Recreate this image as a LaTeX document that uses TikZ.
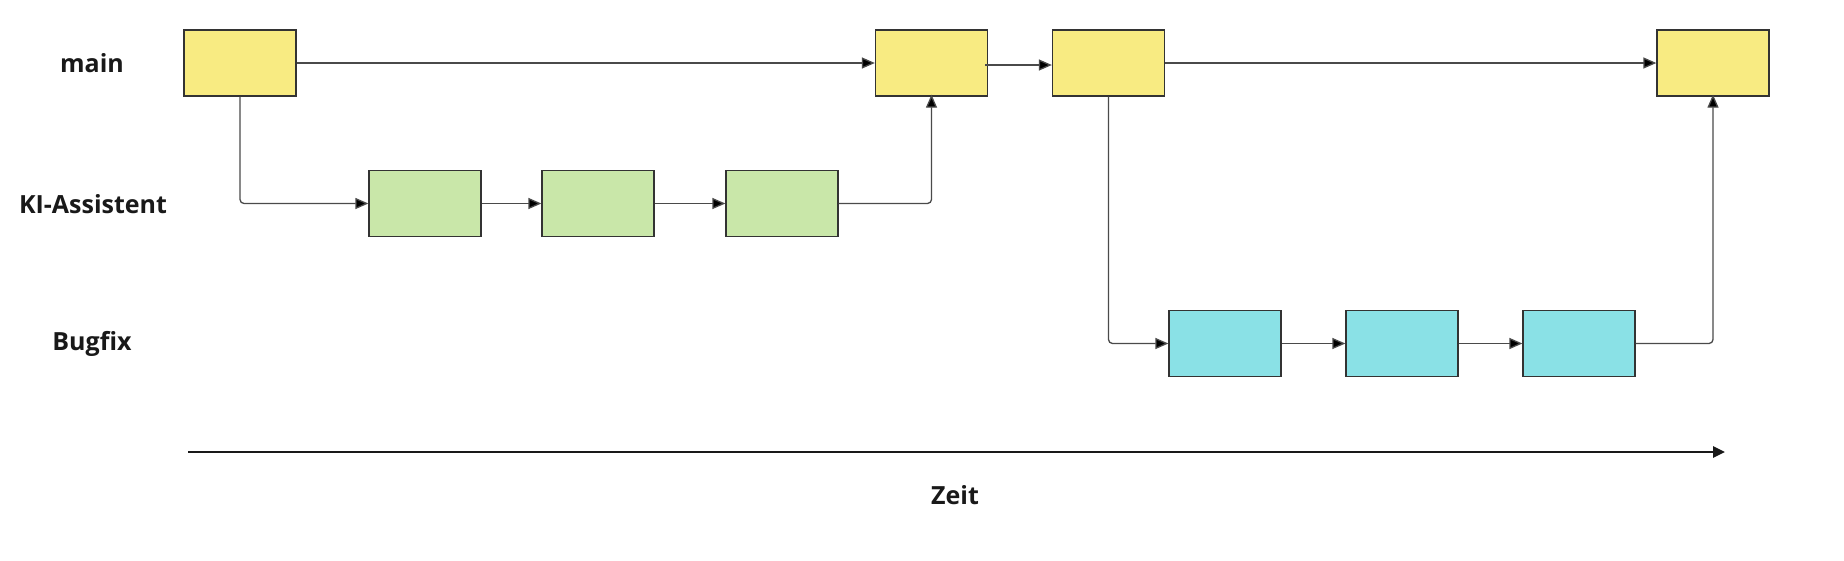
\documentclass[tikz,border=0pt]{standalone}
\usepackage{fontspec}
\setmainfont{Open Sans}
\usetikzlibrary{arrows.meta}
\definecolor{cyel}{HTML}{F8EB82}
\definecolor{cgrn}{HTML}{C9E7A9}
\definecolor{ccyn}{HTML}{8AE1E6}
\definecolor{cline}{HTML}{4A4A4A}
\definecolor{cbord}{HTML}{333333}
\tikzset{
  commit/.style={draw=cbord, line width=1.3pt, minimum width=112pt, minimum height=66pt, inner sep=0pt},
  mainc/.style={commit, fill=cyel},
  kic/.style={commit, fill=cgrn},
  bugc/.style={commit, fill=ccyn},
  conn/.style={draw=cline, line width=1.3pt, rounded corners=4pt, -{Triangle[length=13pt,width=11pt,fill=black]}},
  lane/.style={font=\bfseries\fontsize{25}{30}\selectfont, text=black!90},
}
\begin{document}
\begin{tikzpicture}[x=1pt,y=-1pt]
\useasboundingbox (0,0) rectangle (1844,560);
% lane labels
\node[lane] (lmain) at (92,63) {main};
\node[lane] (lki) at (93,204) {KI-Assistent};
\node[lane] (lbug) at (92,344) {Bugfix};
% main commits
\node[mainc] (m1) at (240,63) {};
\node[mainc] (m2) at (931.5,63) {};
\node[mainc] (m3) at (1108.5,63) {};
\node[mainc] (m4) at (1713,63) {};
% KI commits
\node[kic] (k1) at (425,203.5) {};
\node[kic] (k2) at (598,203.5) {};
\node[kic] (k3) at (782,203.5) {};
% Bugfix commits
\node[bugc] (b1) at (1225,343.5) {};
\node[bugc] (b2) at (1402,343.5) {};
\node[bugc] (b3) at (1579,343.5) {};
% connectors
\draw[conn] (m1.east) -- (m2.west);
\draw[conn] ([xshift=-3pt,yshift=-2pt]m2.east) -- ([yshift=-2pt]m3.west);
\draw[conn] (m3.east) -- (m4.west);
\draw[conn] (m1.south) |- (k1.west);
\draw[conn] (k1) -- (k2);
\draw[conn] (k2) -- (k3);
\draw[conn] (k3.east) -| ([yshift=2pt]m2.south);
\draw[conn] (m3.south) |- (b1.west);
\draw[conn] (b1) -- (b2);
\draw[conn] (b2) -- (b3);
\draw[conn] (b3.east) -| ([yshift=2pt]m4.south);
% time axis
\coordinate (t0) at (188,452);
\coordinate (t1) at (1725,452);
\draw[line width=2.8pt, black!90, -{Triangle[length=12pt,width=11pt]}] (t0) -- (t1);
\node[lane] (zeit) at (955,495) {Zeit};
\end{tikzpicture}
\end{document}
